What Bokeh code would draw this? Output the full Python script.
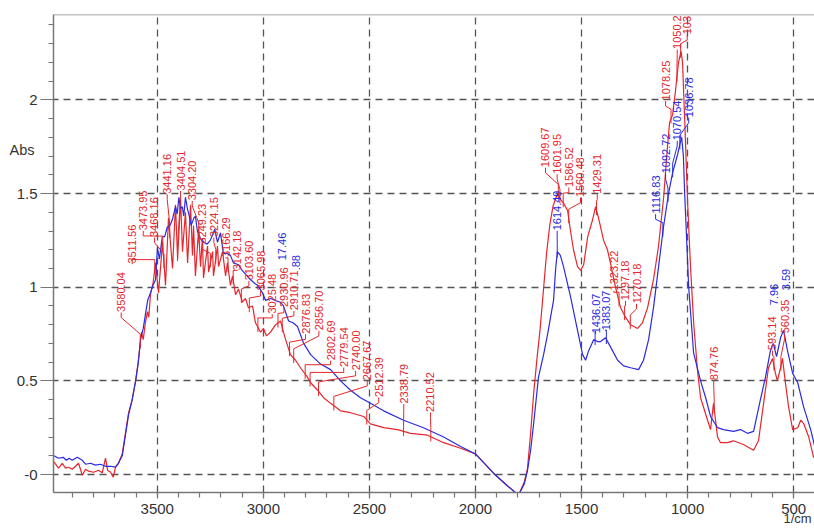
import numpy as np
from bokeh.plotting import figure
from bokeh.models import Range1d, FixedTicker, Span, LinearAxis
from bokeh.embed import file_html
from bokeh.resources import INLINE
from bokeh.core.properties import value

# ---------------- data (wavenumber 1/cm, absorbance) ----------------
red_wn = [3987, 3965, 3948, 3932, 3918, 3901, 3885, 3871, 3853, 3838, 3824, 3800, 3777, 3759, 3744, 3734,
          3720, 3707, 3697, 3683, 3665, 3650, 3635, 3618, 3602, 3590, 3580, 3574, 3566, 3556, 3546, 3540,
          3532, 3520, 3508, 3494, 3475, 3461, 3447, 3428, 3414, 3404, 3390, 3381, 3367, 3357, 3343, 3334,
          3329, 3320, 3305, 3296, 3287, 3282, 3263, 3258, 3239, 3235, 3216, 3211, 3192, 3178, 3169, 3155,
          3145, 3131, 3117, 3098, 3084, 3070, 3051, 3037, 3013, 2999, 2985, 2966, 2942, 2919, 2905, 2895,
          2872, 2848, 2825, 2792, 2777, 2744, 2716, 2683, 2636, 2589, 2527, 2495, 2433, 2367, 2306, 2226,
          2150, 2070, 2000, 1915, 1850, 1797, 1770, 1755, 1740, 1726, 1710, 1695, 1680, 1665, 1650, 1635,
          1620, 1609, 1601, 1585, 1566, 1552, 1538, 1519, 1504, 1490, 1471, 1448, 1434, 1420, 1396, 1378,
          1364, 1340, 1316, 1293, 1269, 1236, 1213, 1189, 1161, 1137, 1113, 1095, 1085, 1071, 1057, 1043,
          1031, 1024, 1014, 1000, 986, 971, 953, 939, 906, 892, 878, 859, 845, 812, 784, 737,
          689, 666, 642, 619, 600, 586, 577, 562, 553, 538, 524, 505, 481, 467, 452, 429, 406]
red_abs = [0.067, 0.034, 0.060, 0.034, 0.039, 0.028, 0.044, 0.060, -0.004, 0.028, 0.018, 0.012, 0.023, 0.009, 0.087, 0.023,
           0.012, -0.014, 0.039, 0.060, 0.110, 0.220, 0.330, 0.400, 0.500, 0.600, 0.700, 0.760, 0.720, 0.810, 0.870, 0.840,
           0.960, 1.020, 1.130, 0.970, 1.240, 1.010, 1.370, 1.100, 1.440, 1.150, 1.470, 1.190, 1.400, 1.130, 1.440, 1.170,
           1.330, 1.060, 1.310, 1.110, 1.260, 1.050, 1.220, 1.080, 1.190, 1.060, 1.220, 1.110, 1.190, 1.060, 1.130, 1.010,
           1.060, 0.960, 0.990, 0.920, 0.940, 0.890, 0.900, 0.810, 0.760, 0.780, 0.740, 0.760, 0.800, 0.820, 0.760, 0.720,
           0.640, 0.610, 0.570, 0.520, 0.490, 0.450, 0.410, 0.380, 0.340, 0.330, 0.310, 0.270, 0.250, 0.240, 0.220, 0.210,
           0.170, 0.140, 0.110, 0.007, -0.060, -0.110, -0.040, 0.030, 0.220, 0.430, 0.620, 0.780, 0.980, 1.180, 1.330, 1.430,
           1.480, 1.500, 1.470, 1.450, 1.410, 1.300, 1.200, 1.110, 1.090, 1.120, 1.270, 1.360, 1.430, 1.370, 1.250, 1.200,
           1.130, 1.000, 0.890, 0.840, 0.800, 0.780, 0.810, 0.890, 1.040, 1.220, 1.480, 1.750, 1.880, 1.920, 2.050, 2.200,
           2.260, 2.200, 1.900, 1.450, 1.100, 0.800, 0.550, 0.410, 0.290, 0.240, 0.380, 0.200, 0.170, 0.170, 0.180, 0.160,
           0.130, 0.180, 0.380, 0.570, 0.620, 0.540, 0.500, 0.570, 0.620, 0.480, 0.360, 0.240, 0.250, 0.290, 0.270, 0.200, 0.090]

blue_wn = [3987, 3965, 3943, 3929, 3915, 3901, 3877, 3853, 3838, 3815, 3791, 3768, 3744, 3720, 3697, 3683,
           3665, 3650, 3635, 3618, 3602, 3590, 3578, 3566, 3555, 3545, 3532, 3520, 3508, 3499, 3490, 3476,
           3465, 3453, 3440, 3429, 3414, 3406, 3398, 3390, 3382, 3375, 3367, 3358, 3351, 3340, 3327, 3320,
           3311, 3296, 3280, 3265, 3250, 3239, 3229, 3216, 3202, 3188, 3170, 3155, 3141, 3117, 3100, 3084,
           3060, 3040, 3027, 3004, 2990, 2965, 2945, 2920, 2905, 2881, 2860, 2839, 2810, 2777, 2740, 2730,
           2683, 2636, 2589, 2542, 2495, 2433, 2339, 2245, 2150, 2070, 2000, 1915, 1850, 1797, 1770, 1755,
           1740, 1726, 1703, 1679, 1660, 1646, 1632, 1622, 1614, 1600, 1585, 1552, 1519, 1495, 1481, 1467,
           1443, 1425, 1410, 1387, 1363, 1330, 1302, 1269, 1231, 1208, 1184, 1161, 1137, 1114, 1090, 1071,
           1047, 1033, 1028, 1020, 1014, 995, 972, 939, 915, 892, 859, 831, 784, 751, 718, 689,
           657, 633, 610, 596, 581, 562, 548, 529, 505, 481, 453, 420, 401]
blue_abs = [0.100, 0.087, 0.092, 0.076, 0.087, 0.076, 0.092, 0.076, 0.055, 0.060, 0.050, 0.055, 0.044, 0.044, 0.039, 0.060,
            0.100, 0.210, 0.320, 0.400, 0.500, 0.590, 0.730, 0.780, 0.860, 0.930, 0.970, 1.010, 1.040, 1.210, 1.150, 1.270,
            1.270, 1.320, 1.330, 1.360, 1.430, 1.390, 1.480, 1.420, 1.430, 1.380, 1.480, 1.420, 1.390, 1.330, 1.370, 1.380,
            1.300, 1.260, 1.240, 1.230, 1.250, 1.280, 1.310, 1.240, 1.290, 1.180, 1.180, 1.170, 1.130, 1.120, 1.090, 1.070,
            1.040, 1.020, 1.010, 0.970, 0.930, 0.940, 0.930, 0.920, 0.900, 0.820, 0.810, 0.790, 0.700, 0.640, 0.600, 0.590,
            0.560, 0.500, 0.450, 0.410, 0.380, 0.340, 0.290, 0.250, 0.200, 0.150, 0.110, 0.007, -0.060, -0.110, -0.050, 0.020,
            0.130, 0.270, 0.520, 0.640, 0.750, 0.840, 0.930, 1.100, 1.190, 1.170, 1.110, 0.950, 0.770, 0.640, 0.610, 0.660,
            0.720, 0.710, 0.710, 0.730, 0.680, 0.610, 0.580, 0.570, 0.560, 0.610, 0.720, 0.890, 1.110, 1.320, 1.500, 1.610,
            1.710, 1.780, 1.800, 1.700, 1.500, 1.000, 0.650, 0.500, 0.410, 0.310, 0.250, 0.240, 0.230, 0.240, 0.220, 0.230,
            0.400, 0.520, 0.660, 0.700, 0.630, 0.730, 0.770, 0.660, 0.540, 0.490, 0.360, 0.240, 0.150]

# peak labels (text as shown) and the wavenumber each one marks
red_peaks = ["3580.04", "3511.56", "3473.95", "3468.16", "3441.16", "3404.51", "3304.20", "3249.23",
             "3224.15", "3166.29", "3142.18", "3103.60", "3065.98", "3025.48", "2930.96", "2910.71",
             "2876.83", "2856.70", "2802.69", "2779.54", "2740.00", "2667.67", "2512.39", "2338.79",
             "2210.52", "1609.67", "1601.95", "1586.52", "1560.48", "1429.31", "1323.22", "1297.18",
             "1270.18", "1078.25", "1050.2", "103", "874.76", "593.14", "560.35"]
red_peak_wn = [3580.04, 3511.56, 3473.95, 3468.16, 3441.16, 3404.51, 3304.20, 3249.23,
               3224.15, 3166.29, 3142.18, 3103.60, 3065.98, 3025.48, 2930.96, 2910.71,
               2876.83, 2856.70, 2802.69, 2779.54, 2740.00, 2667.67, 2512.39, 2338.79,
               2210.52, 1609.67, 1601.95, 1586.52, 1560.48, 1429.31, 1323.22, 1297.18,
               1270.18, 1078.25, 1050.2, 1033.0, 874.76, 593.14, 560.35]
blue_peaks = ["1614.49", "1436.07", "1383.07", "1116.83", "1092.72", "1070.54", "1036.78"]
blue_peak_wn = [1614.49, 1436.07, 1383.07, 1116.83, 1092.72, 1070.54, 1036.78]
blue_partial = ["17.46", ".88", "7.96", "3.59"]

x_ticks = [3500, 3000, 2500, 2000, 1500, 1000, 500]
y_ticks = [0, 0.5, 1, 1.5, 2]
y_tick_labels = ["-0", "0.5", "1", "1.5", "2"]
y_title = "Abs"
x_title = "1/cm"

# ---------------- layout of label texts (x in 1/cm, y bottom of text) ----------------
red_pos = [(3670, 0.868), (3618, 1.126), (3566, 1.304), (3513, 1.268), (3453, 1.499), (3390, 1.517),
           (3335, 1.464), (3288, 1.233), (3233, 1.268), (3178, 1.161), (3123, 1.090), (3068, 1.037),
           (3013, 0.983), (2958, 0.859), (2903, 0.894), (2856, 0.877), (2801, 0.752), (2738, 0.770),
           (2683, 0.610), (2621, 0.574), (2565, 0.557), (2510, 0.503), (2456, 0.414), (2338, 0.379),
           (2212, 0.334), (1670, 1.641), (1615, 1.606), (1560, 1.535), (1505, 1.481), (1426, 1.499),
           (1348, 0.983), (1293, 0.930), (1241, 0.914), (1104, 1.997), (1049, 2.272), (1002, 2.350),
           (877, 0.503), (600, 0.664), (543, 0.754)]
blue_pos = [(1615, 1.304), (1434, 0.754), (1387, 0.770), (1151, 1.393), (1104, 1.608), (1049, 1.784),
            (995, 1.908)]
blue_partial_pos = [(2914, 1.144), (2848, 1.090), (595, 0.904), (534, 0.984)]
y_title_at = 1.73
x_title_at = 482

RED = "#e5262c"
BLUE = "#2a2ae2"
GREY = "#777777"
TXT = "#333333"

p = figure(width=814, height=530, x_range=Range1d(3989, 402), y_range=Range1d(-0.096, 2.456),
           output_backend="svg", toolbar_location=None,
           min_border_left=53, min_border_right=0, min_border_top=14, min_border_bottom=38)
p.outline_line_color = None

# axes
p.xaxis.ticker = FixedTicker(ticks=x_ticks, minor_ticks=list(range(3900, 399, -100)))
p.yaxis.ticker = FixedTicker(ticks=y_ticks,
                             minor_ticks=[round(0.1 * i, 1) for i in range(0, 25)])
p.xgrid.ticker = FixedTicker(ticks=x_ticks)
p.ygrid.ticker = FixedTicker(ticks=y_ticks)
p.yaxis.major_label_overrides = {t: l for t, l in zip(y_ticks, y_tick_labels)}
p.xaxis.major_label_overrides = {t: str(t) for t in x_ticks}
for ax in (p.xaxis, p.yaxis):
    ax.axis_line_color = GREY
    ax.axis_line_width = 1.5
    ax.major_tick_line_color = GREY
    ax.minor_tick_line_color = GREY
    ax.major_tick_line_width = 1.2
    ax.minor_tick_line_width = 1.2
    ax.major_tick_in = 0
    ax.minor_tick_in = 0
    ax.minor_tick_out = 5
    ax.major_label_text_font = "Liberation Sans"
    ax.major_label_text_font_size = "15px"
    ax.major_label_text_color = TXT
p.yaxis.major_tick_out = 13
p.yaxis.major_label_standoff = 3
p.xaxis.major_tick_out = 6
p.xaxis.major_label_standoff = 5

# caption axes (text only)
def caption_axis(at, text, standoff, size):
    return LinearAxis(ticker=FixedTicker(ticks=[at], minor_ticks=[]),
                      major_label_overrides={at: text},
                      axis_line_color=None, major_tick_line_color=None, minor_tick_line_color=None,
                      major_tick_out=0, minor_tick_out=0, major_tick_in=0, minor_tick_in=0,
                      major_label_standoff=standoff, major_label_text_font="Liberation Sans",
                      major_label_text_font_size=size, major_label_text_color=TXT)

p.add_layout(caption_axis(y_title_at, y_title, -21, "14.5px"), "left")
p.add_layout(caption_axis(x_title_at, x_title, -6, "13px"), "below")

for g in (p.xgrid, p.ygrid):
    g.grid_line_color = "#555555"
    g.grid_line_dash = "7 5"
    g.grid_line_width = 1.3

p.add_layout(Span(location=2.456, dimension="width", line_color="#888888", line_width=1.5))

# spectra
p.line(red_wn, red_abs, line_color=RED, line_width=1.2)
p.line(blue_wn, blue_abs, line_color=BLUE, line_width=1.2)

rx = np.array(red_wn[::-1], dtype=float)
ry = np.array(red_abs[::-1], dtype=float)
bx = np.array(blue_wn[::-1], dtype=float)
by = np.array(blue_abs[::-1], dtype=float)


def leaders(peaks, pos, cx, cy):
    xs, ys = [], []
    for pk, (lx, ly) in zip(peaks, pos):
        c = float(np.interp(pk, cx, cy))
        top = c + 0.05
        mid = ly - 0.03 if ly - 0.03 > top else top
        xs.append([lx, lx, pk, pk])
        ys.append([ly - 0.003, mid, top, c - 0.025])
    return xs, ys


xs, ys = leaders(red_peak_wn, red_pos, rx, ry)
p.multi_line(xs, ys, line_color=RED, line_width=1)
xs, ys = leaders(blue_peak_wn, blue_pos, bx, by)
p.multi_line(xs, ys, line_color=BLUE, line_width=1)

common = dict(angle=np.pi / 2, text_align="left", text_baseline="middle",
              text_font=value("Liberation Sans"), text_font_size="11px")
p.text([q[0] for q in blue_partial_pos], [q[1] for q in blue_partial_pos], text=blue_partial,
       text_color=BLUE, **common)
p.text([q[0] for q in blue_pos], [q[1] for q in blue_pos], text=blue_peaks, text_color=BLUE, **common)
p.text([q[0] for q in red_pos], [q[1] for q in red_pos], text=red_peaks, text_color=RED, **common)

open("out.html", "w").write(file_html(p, INLINE))
